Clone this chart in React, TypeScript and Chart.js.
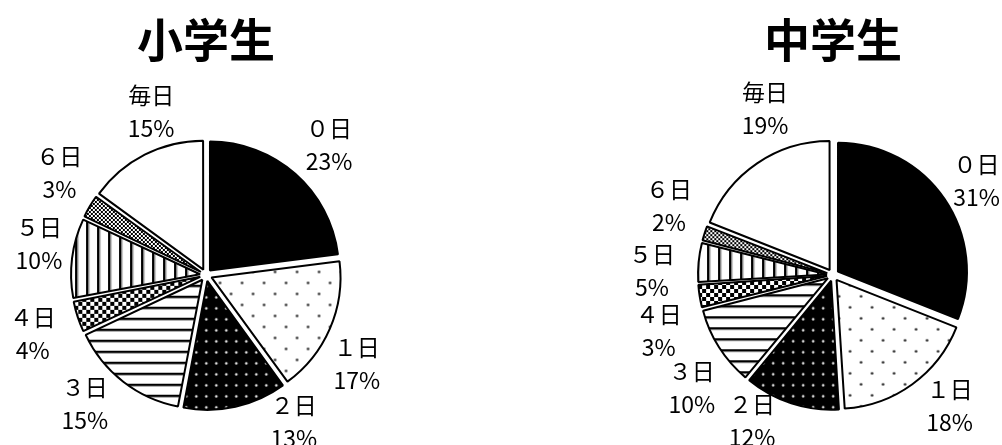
import React, { useEffect, useRef } from 'react';
import { Chart, registerables } from 'chart.js';

Chart.register(...registerables);

// ---- data ----
const categories = ['０日', '１日', '２日', '３日', '４日', '５日', '６日', '毎日'];
const elementaryValues = [23, 17, 13, 15, 4, 10, 3, 15];
const juniorValues = [31, 18, 12, 10, 3, 5, 2, 19];
const chartTitles = ['小学生', '中学生'];

// ---- label layout nudges: [angle shift (deg), distance beyond radius (px)] ----
const elementaryLabelNudge = [
  [2, 50], [7.1, 46], [-18.3, 42], [5.4, 48], [-0.8, 54], [3.5, 41], [4.4, 50], [8.4, 43],
];
const juniorLabelNudge = [
  [0.8, 43], [-5.8, 46], [11, 38], [-6.3, 52], [-8.8, 54], [-4.1, 52], [4.8, 49], [12, 51],
];

const FONT = '"Noto Sans CJK JP", "Noto Sans", sans-serif';
const BASE_R = 129;
const EXPLODE = 24; // Chart.js translates arcs by offset / 4

function makePattern(kind: string): CanvasPattern | string {
  const c = document.createElement('canvas');
  const ctx = c.getContext('2d')!;
  const dot = (x: number, y: number, r: number, col: string) => {
    ctx.fillStyle = col;
    ctx.beginPath();
    ctx.arc(x, y, r, 0, Math.PI * 2);
    ctx.fill();
  };
  switch (kind) {
    case 'solid':
      return '#000000';
    case 'sparseDots': {
      c.width = 22; c.height = 22;
      ctx.fillStyle = '#fff'; ctx.fillRect(0, 0, 22, 22);
      dot(5.5, 5.5, 1.3, '#222');
      dot(16.5, 16.5, 1.3, '#222');
      break;
    }
    case 'whiteDots': {
      c.width = 10; c.height = 11;
      ctx.fillStyle = '#000'; ctx.fillRect(0, 0, 10, 11);
      dot(5, 5.5, 1.3, '#e8e8e8');
      break;
    }
    case 'hLines': {
      c.width = 11; c.height = 11;
      ctx.fillStyle = '#fff'; ctx.fillRect(0, 0, 11, 11);
      ctx.fillStyle = '#000'; ctx.fillRect(0, 5, 11, 2);
      ctx.fillStyle = '#999'; ctx.fillRect(0, 7, 11, 1);
      break;
    }
    case 'checker': {
      c.width = 8; c.height = 8;
      ctx.fillStyle = '#fff'; ctx.fillRect(0, 0, 8, 8);
      ctx.fillStyle = '#000';
      ctx.fillRect(0, 0, 4, 4);
      ctx.fillRect(4, 4, 4, 4);
      break;
    }
    case 'vLines': {
      c.width = 11; c.height = 11;
      ctx.fillStyle = '#fff'; ctx.fillRect(0, 0, 11, 11);
      ctx.fillStyle = '#000'; ctx.fillRect(4, 0, 2.5, 11);
      ctx.fillStyle = '#999'; ctx.fillRect(6.5, 0, 1, 11);
      break;
    }
    case 'fineChecker': {
      c.width = 4; c.height = 4;
      ctx.fillStyle = '#fff'; ctx.fillRect(0, 0, 4, 4);
      ctx.fillStyle = '#000';
      ctx.fillRect(0, 0, 2, 2);
      ctx.fillRect(2, 2, 2, 2);
      break;
    }
    default: {
      return '#ffffff';
    }
  }
  return ctx.createPattern(c, 'repeat')!;
}

const patternKinds = ['solid', 'sparseDots', 'whiteDots', 'hLines', 'checker', 'vLines', 'fineChecker', 'white'];

function PieChart(props: {
  values: number[];
  title: string;
  nudge: number[][];
  left: number;
  width: number;
  padLeft: number;
}) {
  const ref = useRef<HTMLCanvasElement | null>(null);
  useEffect(() => {
    if (!ref.current) return;
    const { values, title, nudge } = props;
    const explodePlugin = {
      id: 'evenExplode',
      afterDatasetUpdate(chart: any, args: any) {
        // keep every slice at the same radius while exploded
        args.meta.data.forEach((arc: any) => {
          const off = EXPLODE / 4;
          const fix = 1 - Math.sin(Math.min(Math.PI, arc.circumference || 0));
          arc.outerRadius = BASE_R - off * fix;
        });
      },
    };
    const labelPlugin = {
      id: 'pieLabels',
      afterDatasetsDraw(chart: any) {
        const ctx = chart.ctx as CanvasRenderingContext2D;
        const area = chart.chartArea;
        ctx.save();
        ctx.fillStyle = '#000';
        ctx.textAlign = 'center';
        ctx.textBaseline = 'middle';
        ctx.font = `bold 46px ${FONT}`;
        ctx.fillText(title, (area.left + area.right) / 2, 40);
        ctx.font = `23px ${FONT}`;
        const meta = chart.getDatasetMeta(0);
        meta.data.forEach((arc: any, i: number) => {
          const p = arc.getProps(['x', 'y', 'startAngle', 'endAngle'], true);
          const mid = (p.startAngle + p.endAngle) / 2 + (nudge[i][0] * Math.PI) / 180;
          const d = BASE_R + nudge[i][1];
          const lx = p.x + Math.cos(mid) * d;
          const ly = p.y + Math.sin(mid) * d;
          ctx.fillText(categories[i], lx, ly - 16.5);
          ctx.fillText(`${values[i]}%`, lx, ly + 16.5);
        });
        ctx.restore();
      },
    };
    const chart = new Chart(ref.current, {
      type: 'pie',
      data: {
        labels: categories,
        datasets: [
          {
            data: values,
            backgroundColor: patternKinds.map((k) => makePattern(k)) as any,
            borderColor: '#000',
            borderWidth: 2,
            offset: EXPLODE,
            hoverOffset: EXPLODE,
          },
        ],
      },
      options: {
        responsive: false,
        animation: false,
        radius: BASE_R,
        layout: { padding: { top: 105, left: props.padLeft, right: 0, bottom: 0 } },
        plugins: {
          legend: { display: false },
          tooltip: { enabled: false },
          title: { display: false },
        },
        events: [],
      } as any,
      plugins: [explodePlugin, labelPlugin],
    });
    return () => chart.destroy();
  }, []);
  return (
    <canvas
      ref={ref}
      width={props.width}
      height={445}
      style={{ position: 'absolute', left: props.left, top: 0, width: props.width, height: 445 }}
    />
  );
}

export default function App() {
  return (
    <div
      style={{
        position: 'fixed',
        left: 0,
        top: 0,
        width: 1002,
        height: 445,
        background: '#fff',
        overflow: 'hidden',
      }}
    >
      <PieChart values={elementaryValues} title={chartTitles[0]} nudge={elementaryLabelNudge} left={0} width={412} padLeft={0} />
      <PieChart values={juniorValues} title={chartTitles[1]} nudge={juniorLabelNudge} left={500} width={502} padLeft={164} />
    </div>
  );
}
